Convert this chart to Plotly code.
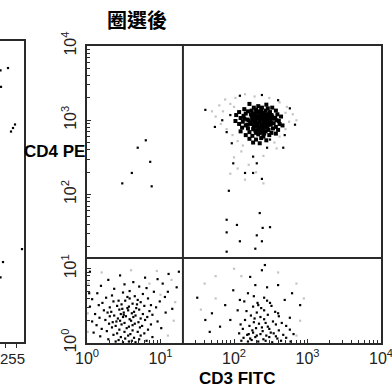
import plotly.graph_objects as go

# ---- Gated CD3 / CD4 dot plot: positions in log decades (0..4) ----
# Upper-right quadrant: CD3+CD4+ core
ur_core_cd3 = [2.21, 2.33, 2.44, 2.52, 2.14, 2.27, 2.37, 2.46, 2.57, 2.07, 2.19, 2.26,
               2.34, 2.41, 2.49, 2.59, 2.03, 2.13, 2.23, 2.30, 2.37, 2.44, 2.51, 2.56,
               2.64, 2.09, 2.18, 2.25, 2.33, 2.39, 2.46, 2.53, 2.61, 2.02, 2.12, 2.20,
               2.28, 2.35, 2.41, 2.47, 2.54, 2.62, 2.07, 2.16, 2.23, 2.31, 2.38, 2.44,
               2.50, 2.57, 2.66, 2.11, 2.19, 2.27, 2.34, 2.40, 2.47, 2.53, 2.60, 2.09,
               2.21, 2.29, 2.36, 2.43, 2.51, 2.57, 2.16, 2.25, 2.33, 2.40, 2.48, 2.21,
               2.30, 2.37, 2.44, 2.26, 2.35, 2.24, 2.31, 2.38, 2.45, 2.16, 2.29, 2.36,
               2.42, 2.49, 2.22, 2.32, 2.39, 2.45, 2.26, 2.37, 2.30, 2.41, 2.18, 2.27,
               2.50, 2.14, 2.58, 2.33, 2.43,
               2.28, 2.34, 2.40, 2.46, 2.31, 2.37, 2.43, 2.49, 2.25, 2.29, 2.35, 2.41,
               2.47, 2.32, 2.38, 2.44, 2.27, 2.33, 2.39, 2.45, 2.36, 2.42, 2.30, 2.48,
               2.24, 2.52, 2.35, 2.40, 2.29, 2.46]
ur_core_cd4 = [3.22, 3.19, 3.21, 3.17, 3.15, 3.17, 3.14, 3.16, 3.13, 3.11, 3.12, 3.09,
               3.12, 3.10, 3.11, 3.08, 3.07, 3.06, 3.08, 3.05, 3.07, 3.04, 3.07, 3.03,
               3.05, 3.03, 3.01, 3.04, 3.02, 3.03, 3.00, 3.02, 2.99, 2.99, 2.98, 3.00,
               2.97, 2.99, 2.96, 2.98, 2.96, 2.95, 2.95, 2.93, 2.95, 2.93, 2.94, 2.92,
               2.94, 2.91, 2.93, 2.90, 2.89, 2.91, 2.88, 2.90, 2.87, 2.89, 2.87, 2.85,
               2.84, 2.86, 2.83, 2.85, 2.83, 2.82, 2.80, 2.79, 2.81, 2.78, 2.80, 2.75,
               2.74, 2.76, 2.73, 2.70, 2.69, 3.13, 3.10, 3.17, 3.08, 3.09, 3.01, 3.05,
               3.01, 3.04, 2.97, 2.96, 2.92, 2.95, 2.88, 2.87, 2.83, 2.82, 2.94, 3.06,
               2.97, 3.02, 3.00, 2.91, 3.13,
               3.08, 3.06, 3.09, 3.06, 3.03, 3.01, 3.05, 3.00, 3.00, 2.98, 2.97, 2.99,
               2.97, 2.95, 2.92, 2.95, 2.92, 2.90, 2.89, 2.90, 3.11, 3.07, 3.14, 3.09,
               3.06, 3.05, 2.86, 2.85, 2.94, 2.93]

# Scattered events around and below the CD3+CD4+ core
ur_sparse_cd3 = [1.74, 1.95, 2.76, 2.60, 1.84, 2.83, 2.08, 2.38, 1.61, 2.69,
                 1.90, 1.97, 2.26, 2.31, 1.99, 2.15, 2.26, 2.38, 1.93, 2.67,
                 2.45, 2.49, 2.35, 1.90, 2.04, 2.49, 2.39, 1.90, 2.31, 2.08,
                 2.38, 2.29, 1.90]
ur_sparse_cd4 = [2.91, 3.07, 3.16, 3.27, 3.00, 2.94, 3.33, 3.34, 3.14, 2.80,
                 2.84, 2.69, 2.51, 2.42, 2.42, 2.29, 2.29, 2.21, 2.05, 2.63,
                 2.63, 2.74, 1.75, 1.66, 1.59, 1.56, 1.55, 1.49, 1.45, 1.37,
                 1.37, 1.27, 1.23]

# Upper-left quadrant: CD3-CD4+
ul_cd3 = [0.80, 0.69, 0.86, 0.61, 0.48, 0.88]
ul_cd4 = [2.73, 2.63, 2.44, 2.29, 2.15, 2.11]

# Lower-right quadrant: CD3+CD4-
lr_cd3 = [2.42, 1.50, 1.70, 1.67, 1.81, 1.99, 2.19, 2.45, 2.60, 2.79,
          2.05, 2.49, 2.60, 2.76, 2.22, 2.08, 2.33, 2.69, 1.95, 1.88,
          2.29, 2.38, 1.61, 2.90,
          2.15, 2.27, 2.41, 2.53, 2.65, 2.09, 2.21, 2.34, 2.46, 2.57, 2.71,
          2.12, 2.25, 2.30, 2.39, 2.48, 2.61, 2.76, 2.07, 2.18, 2.26, 2.36,
          2.44, 2.54, 2.67, 2.81, 2.13, 2.22, 2.29, 2.40, 2.48, 2.59, 2.71,
          2.10, 2.19, 2.24, 2.33, 2.43, 2.52, 2.64, 2.77, 2.23, 2.36, 2.46,
          2.61, 2.17, 2.31, 2.41, 2.56, 2.26, 2.37, 2.51, 2.14, 2.32, 2.45,
          2.27, 2.41, 2.20, 2.31, 2.38, 2.50, 2.57, 2.28, 2.43]
lr_cd4 = [1.05, 0.61, 0.40, 0.15, 0.22, 0.71, 0.67, 0.75, 0.78, 0.67,
          0.44, 0.54, 0.40, 0.34, 0.89, 0.58, 0.51, 0.58, 0.31, 0.51,
          0.78, 0.98, 0.31, 0.51,
          0.31, 0.28, 0.32, 0.29, 0.27, 0.25, 0.23, 0.26, 0.22, 0.25, 0.23,
          0.19, 0.17, 0.20, 0.16, 0.19, 0.17, 0.18, 0.13, 0.11, 0.14, 0.12,
          0.10, 0.13, 0.11, 0.12, 0.07, 0.06, 0.08, 0.05, 0.08, 0.06, 0.07,
          0.03, 0.02, 0.04, 0.02, 0.03, 0.01, 0.03, 0.02, 0.37, 0.35, 0.38,
          0.36, 0.43, 0.41, 0.44, 0.42, 0.49, 0.47, 0.50, 0.56, 0.54, 0.57,
          0.63, 0.61, 0.12, 0.10, 0.21, 0.14, 0.09, 0.33, 0.27]

# Lower-left quadrant: CD3-CD4-
ll_cd3 = [0.45, 0.79, 1.11, 0.29, 0.63, 0.96, 0.19, 0.51, 0.71, 1.03, 1.22, 0.37,
          0.58, 0.81, 0.91, 0.14, 0.34, 0.49, 0.65, 0.76, 1.06, 0.07, 0.26, 0.43,
          0.55, 0.69, 0.83, 0.99, 0.21, 0.36, 0.47, 0.52, 0.62, 0.73, 0.87, 0.04,
          0.16, 0.31, 0.41, 0.48, 0.57, 0.67, 0.78, 0.94, 1.16, 0.23, 0.33, 0.44,
          0.50, 0.56, 0.64, 0.71, 0.85, 0.11, 0.28, 0.37, 0.46, 0.53, 0.61, 0.66,
          0.76, 0.89, 1.07, 0.17, 0.31, 0.42, 0.49, 0.58, 0.63, 0.73, 0.82, 0.07,
          0.25, 0.35, 0.45, 0.51, 0.60, 0.70, 0.79, 0.96, 0.13, 0.30, 0.39, 0.47,
          0.57, 0.65, 0.75, 0.87, 0.20, 0.34, 0.44, 0.54, 0.62, 0.72, 0.83, 1.01,
          0.09, 0.27, 0.41, 0.51, 0.59, 0.69, 0.78, 0.18, 0.36, 0.46, 0.56, 0.64,
          0.73, 0.89, 0.29, 0.43, 0.52, 0.61, 0.71, 0.81, 0.39, 0.49, 0.57, 0.66,
          1.25, 1.10, 0.04, 0.03, 0.58, 0.50, 0.55, 0.68, 0.40, 0.62]
ll_cd4 = [0.91, 0.88, 0.93, 0.85, 0.82, 0.86, 0.77, 0.79, 0.76, 0.80, 0.75, 0.73,
          0.70, 0.74, 0.69, 0.67, 0.64, 0.68, 0.63, 0.66, 0.62, 0.59, 0.61, 0.57,
          0.62, 0.58, 0.60, 0.56, 0.54, 0.56, 0.52, 0.57, 0.53, 0.55, 0.51, 0.49,
          0.51, 0.48, 0.50, 0.46, 0.49, 0.47, 0.50, 0.48, 0.46, 0.44, 0.42, 0.45,
          0.41, 0.44, 0.42, 0.45, 0.43, 0.39, 0.41, 0.37, 0.39, 0.36, 0.40, 0.37,
          0.39, 0.38, 0.41, 0.34, 0.36, 0.33, 0.35, 0.32, 0.35, 0.33, 0.35, 0.29,
          0.31, 0.28, 0.30, 0.27, 0.30, 0.28, 0.31, 0.29, 0.24, 0.26, 0.23, 0.25,
          0.22, 0.26, 0.23, 0.25, 0.19, 0.21, 0.18, 0.20, 0.17, 0.21, 0.18, 0.20,
          0.14, 0.16, 0.13, 0.15, 0.12, 0.15, 0.13, 0.09, 0.11, 0.08, 0.10, 0.07,
          0.10, 0.08, 0.05, 0.04, 0.06, 0.03, 0.05, 0.03, 0.02, 0.01, 0.02, 0.01,
          0.96, 0.69, 0.96, 0.67, 0.60, 0.38, 0.47, 0.52, 0.29, 0.24]

# Faint low-intensity events printed in light grey around the populations
faint_cd3 = [1.80, 1.88, 1.95, 2.02, 2.15, 2.28, 2.48, 2.62, 2.72, 2.80, 2.75, 2.70,
             2.62, 2.55, 1.75, 1.82, 1.90, 1.98, 2.05, 2.12, 1.70, 1.85, 2.00, 2.70,
             2.85, 2.58, 2.10, 2.00, 2.40, 2.20, 2.05, 2.30, 2.15, 1.95, 2.40,
             0.20, 0.60, 0.95, 1.15, 1.20, 1.18, 1.10, 0.02, 0.01, 0.01, 0.85, 1.00,
             1.60, 1.75, 2.00, 2.60, 2.85, 2.95, 2.90, 2.85, 1.55, 1.75, 2.10]
faint_cd4 = [3.20, 3.28, 3.22, 3.30, 3.35, 3.32, 3.30, 3.24, 3.18, 3.08, 2.98, 2.88,
             2.78, 2.70, 3.05, 2.95, 2.88, 2.80, 2.72, 2.66, 3.12, 3.12, 3.18, 3.10,
             3.00, 2.62, 2.58, 2.50, 2.52, 2.40, 2.35, 2.30, 2.20, 2.28, 2.15,
             0.95, 0.98, 0.97, 0.85, 0.55, 0.30, 0.10, 0.80, 0.40, 0.15, 0.80, 0.65,
             0.80, 0.90, 1.00, 0.95, 0.80, 0.60, 0.30, 0.10, 0.45, 0.60, 0.90]

# Quadrant gate positions (fluorescence units)
gate_cd3 = 20.2
gate_cd4 = 14.0

# Neighbouring scatter panel (linear 0..255 channels, right edge only)
side_x = [232.5, 240, 233, 247, 245, 243, 235, 232.5, 254]
side_y = [231, 233, 217, 185, 182, 179, 68, 55, 79]

decade_vals = [1, 10, 100, 1000, 10000]
decade_text = ["10<sup>0</sup>", "10<sup>1</sup>", "10<sup>2</sup>",
               "10<sup>3</sup>", "10<sup>4</sup>"]


def lin(dec):
    return [10 ** d for d in dec]


W, H = 392, 387
AX = "#2a2a2a"
TICKFONT = dict(family="Liberation Sans, Arial, sans-serif", size=16, color="#222")

fig = go.Figure()

dot = dict(symbol="square", color="black", line=dict(width=0))
fig.add_trace(go.Scatter(x=lin(faint_cd3), y=lin(faint_cd4), mode="markers",
                         marker=dict(dot, size=2.2, color="#c4c4c4"),
                         hoverinfo="skip"))
fig.add_trace(go.Scatter(x=lin(ur_core_cd3), y=lin(ur_core_cd4), mode="markers",
                         marker=dict(dot, size=4), hoverinfo="skip"))
for xs, ys in [(ur_sparse_cd3, ur_sparse_cd4), (ul_cd3, ul_cd4),
               (lr_cd3, lr_cd4), (ll_cd3, ll_cd4)]:
    fig.add_trace(go.Scatter(x=lin(xs), y=lin(ys), mode="markers",
                             marker=dict(dot, size=2.2), hoverinfo="skip"))

fig.add_trace(go.Scatter(x=side_x, y=side_y, mode="markers", xaxis="x2", yaxis="y2",
                         marker=dict(dot, size=2.2), hoverinfo="skip"))

# quadrant gate lines
fig.add_shape(type="line", x0=gate_cd3, x1=gate_cd3, y0=1, y1=10000,
              xref="x", yref="y", line=dict(color=AX, width=2))
fig.add_shape(type="line", x0=1, x1=10000, y0=gate_cd4, y1=gate_cd4,
              xref="x", yref="y", line=dict(color=AX, width=2))

logaxis = dict(type="log", range=[0, 4], tickmode="array", tickvals=decade_vals,
               ticktext=decade_text, ticks="inside", ticklen=4, tickcolor=AX,
               showline=True, linecolor=AX, linewidth=2, mirror=True,
               showgrid=False, zeroline=False, tickfont=TICKFONT,
               automargin=False, ticklabeloverflow="allow",
               minor=dict(ticks="inside", ticklen=3, tickcolor=AX, dtick="D1",
                          showgrid=False))

fig.update_layout(
    width=W, height=H, margin=dict(l=0, r=0, t=0, b=0, autoexpand=False),
    paper_bgcolor="white", plot_bgcolor="white", showlegend=False,
    xaxis=dict(logaxis, domain=[87 / W, 381 / W], anchor="y"),
    yaxis=dict(logaxis, domain=[1 - 343 / H, 1 - 46 / H], anchor="x",
               tickangle=-90, ticklabelstandoff=3),
    xaxis2=dict(domain=[0, 24 / W], range=[232, 256], anchor="y2",
                showline=True, mirror=True, linecolor=AX, linewidth=2,
                showgrid=False, zeroline=False, showticklabels=False,
                automargin=False,
                tickvals=[237, 248], ticks="outside", ticklen=4, tickcolor=AX),
    yaxis2=dict(domain=[1 - 342 / H, 1 - 41 / H], range=[0, 256], anchor="x2",
                side="right", showline=True, linecolor=AX, linewidth=2,
                automargin=False,
                showgrid=False, zeroline=False, showticklabels=False, ticks=""),
)

lab = dict(family="Liberation Sans, Arial, sans-serif", size=17, color="black")
ann = dict(xref="paper", yref="paper", showarrow=False, yanchor="middle")
fig.add_annotation(ann, text="<b>圈選後</b>", x=137 / W, y=1 - 19 / H,
                   font=dict(family="Noto Sans CJK TC", size=20, color="black"))
fig.add_annotation(ann, text="<b>CD4 PE</b>", x=87 / W, y=1 - 152 / H,
                   xanchor="right", font=lab)
fig.add_annotation(ann, text="<b>CD3 FITC</b>", x=237 / W, y=1 - 378 / H, font=lab)
fig.add_annotation(ann, text="255", x=27 / W, y=1 - 358 / H, xanchor="right",
                   font=dict(TICKFONT, size=15))

fig.write_html("out.html")
